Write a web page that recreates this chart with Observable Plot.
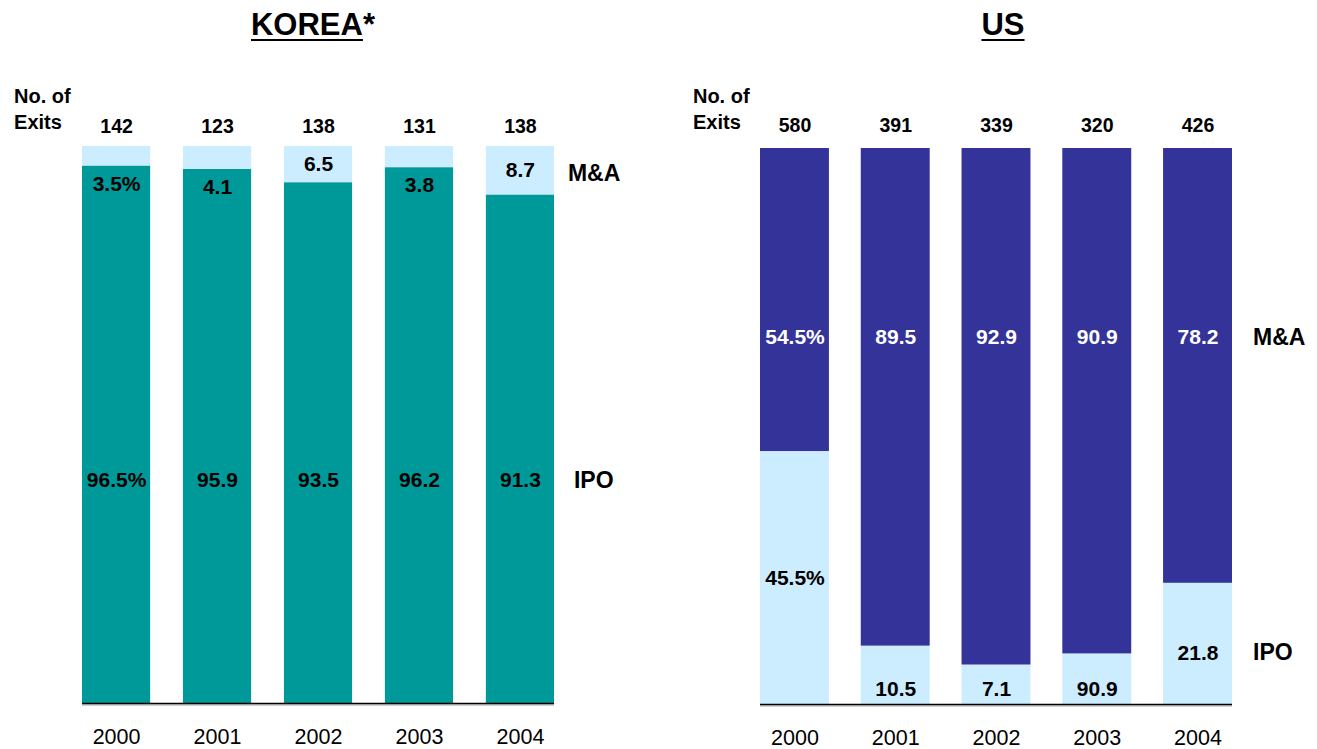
<!DOCTYPE html>
<html><head><meta charset="utf-8">
<script src="https://cdn.jsdelivr.net/npm/d3@7"></script>
<script src="https://cdn.jsdelivr.net/npm/@observablehq/plot@0.6"></script>
<style>
body{margin:0;background:#fff;font-family:"Liberation Sans",Arial,sans-serif;}
#root{position:relative;width:1317px;height:749px;overflow:hidden;background:#fff;}
.title{position:absolute;top:9px;font-size:31px;font-weight:bold;line-height:31px;transform:translateX(-50%);white-space:nowrap;color:#000}
.title u{text-decoration-thickness:2px;text-underline-offset:4px}
.panel{position:absolute;top:50px}
</style></head><body>
<div id="root">
  <div class="title" style="left:313px"><u>KOREA</u>*</div>
  <div class="title" style="left:1003px"><u>US</u></div>
  <div class="panel" id="korea" style="left:0px"></div>
  <div class="panel" id="us" style="left:660px"></div>
</div>
<script>
// ---- data ----
const years = ["2000", "2001", "2002", "2003", "2004"];
const types = ["IPO", "M&A"];

const koreaTotals = [142, 123, 138, 131, 138];
const koreaIPO = [96.5, 95.9, 93.5, 96.2, 91.3];
const koreaMA = [3.5, 4.1, 6.5, 3.8, 8.7];
const koreaIPOLabels = ["96.5%", "95.9", "93.5", "96.2", "91.3"];
const koreaMALabels = ["3.5%", "4.1", "6.5", "3.8", "8.7"];

const usTotals = [580, 391, 339, 320, 426];
const usIPO = [45.5, 10.5, 7.1, 9.1, 21.8];
const usMA = [54.5, 89.5, 92.9, 90.9, 78.2];
const usIPOLabels = ["45.5%", "10.5", "7.1", "90.9", "21.8"];
const usMALabels = ["54.5%", "89.5", "92.9", "90.9", "78.2"];

const koreaColors = ["#009999", "#CCECFF"]; // IPO, M&A
const usColors = ["#CCECFF", "#333399"];    // IPO, M&A

const FONT = "Liberation Sans, Arial, sans-serif";
const LABEL = 21;

function rowsOf(ipo, ma, ipoL, maL) {
  return years.flatMap((y, i) => [
    {year: y, type: "IPO", value: ipo[i], label: ipoL[i], ipo: ipo[i], ma: ma[i]},
    {year: y, type: "M&A", value: ma[i], label: maL[i], ipo: ipo[i], ma: ma[i]}
  ]);
}

function base(cfg, extra) {
  const totals = years.map((y, i) => ({year: y, total: cfg.totals[i]}));
  const rows = cfg.rows;
  return Plot.plot({
    width: cfg.width,
    height: 699,
    marginLeft: cfg.marginLeft,
    marginRight: cfg.marginRight,
    marginTop: cfg.marginTop,
    marginBottom: cfg.marginBottom,
    style: {fontFamily: FONT, background: "#fff", overflow: "visible"},
    x: {type: "band", domain: years, paddingInner: cfg.paddingInner, paddingOuter: 0, round: false, axis: null},
    y: {domain: [0, 100], axis: null},
    color: {domain: types, range: cfg.colors},
    marks: [
      Plot.barY(rows, {x: "year", y: "value", fill: "type"}),
      Plot.ruleY([0], {stroke: "#a0a0a0", strokeWidth: 1.2, dy: 1.5}),
      Plot.ruleY([0], {stroke: "#000", strokeWidth: 1.5}),
      Plot.text(totals, {x: "year", y: () => 100, dy: cfg.totalsDy, text: d => String(d.total), fontSize: 19.5, fontWeight: "bold", fill: "#000", lineAnchor: "middle", fontFamily: FONT}),
      Plot.text(["No. of\nExits"], {x: () => years[0], y: () => 100, dx: cfg.exitsDx, dy: cfg.exitsDy, textAnchor: "start", lineAnchor: "middle", lineHeight: 1.3, fontSize: 20, fontWeight: "bold", fill: "#000", fontFamily: FONT}),
      Plot.text(years, {x: d => d, y: () => 0, dy: 34, fontSize: 21.5, fill: "#000", lineAnchor: "middle", fontFamily: FONT}),
      ...extra
    ]
  });
}

// ---- Korea ----
const kRows = rowsOf(koreaIPO, koreaMA, koreaIPOLabels, koreaMALabels);
const kIpoY = 40;
const kMaRows = kRows.filter(d => d.type === "M&A");
const korea = base({
  width: 660, marginLeft: 82, marginRight: 106, marginTop: 96, marginBottom: 46,
  paddingInner: 0.325, colors: koreaColors, totals: koreaTotals, rows: kRows,
  exitsDx: -102.5, exitsDy: -39, totalsDy: -20
}, [
  Plot.text(kRows.filter(d => d.type === "IPO"), {x: "year", y: () => kIpoY, text: "label", fontSize: LABEL, fontWeight: "bold", fill: "#000", lineAnchor: "middle", fontFamily: FONT}),
  Plot.text(kMaRows.filter(d => d.ma >= 5), {x: "year", y: d => 100 - d.ma / 2, text: "label", fontSize: LABEL, fontWeight: "bold", fill: "#000", lineAnchor: "middle", fontFamily: FONT}),
  Plot.text(kMaRows.filter(d => d.ma < 5), {x: "year", y: d => 100 - d.ma, dy: 18, text: "label", fontSize: LABEL, fontWeight: "bold", fill: "#000", lineAnchor: "middle", fontFamily: FONT}),
  Plot.text(["M&A"], {x: () => years[4], y: () => 100 - koreaMA[4] / 2, dx: 47.5, dy: 3, text: d => d, textAnchor: "start", lineAnchor: "middle", fontSize: 23, fontWeight: "bold", fill: "#000", fontFamily: FONT}),
  Plot.text(["IPO"], {x: () => years[4], y: () => kIpoY, dx: 53.5, text: d => d, textAnchor: "start", lineAnchor: "middle", fontSize: 23, fontWeight: "bold", fill: "#000", fontFamily: FONT})
]);
document.getElementById("korea").appendChild(korea);

// ---- US ----
const uRows = rowsOf(usIPO, usMA, usIPOLabels, usMALabels);
const uMaY = 66;
const uIpoRows = uRows.filter(d => d.type === "IPO");
const us = base({
  width: 657, marginLeft: 100, marginRight: 85, marginTop: 98, marginBottom: 45,
  paddingInner: 0.316, colors: usColors, totals: usTotals, rows: uRows,
  exitsDx: -102, exitsDy: -41, totalsDy: -23
}, [
  Plot.text(uRows.filter(d => d.type === "M&A"), {x: "year", y: () => uMaY, text: "label", fontSize: LABEL, fontWeight: "bold", fill: "#fff", lineAnchor: "middle", fontFamily: FONT}),
  Plot.text(uIpoRows.filter(d => d.ipo >= 30), {x: "year", y: d => d.ipo / 2, text: "label", fontSize: LABEL, fontWeight: "bold", fill: "#000", lineAnchor: "middle", fontFamily: FONT}),
  Plot.text(uIpoRows.filter(d => d.ipo >= 15 && d.ipo < 30), {x: "year", y: d => d.ipo / 2, dy: 9, text: "label", fontSize: LABEL, fontWeight: "bold", fill: "#000", lineAnchor: "middle", fontFamily: FONT}),
  Plot.text(uIpoRows.filter(d => d.ipo < 15), {x: "year", y: () => 0, dy: -15, text: "label", fontSize: LABEL, fontWeight: "bold", fill: "#000", lineAnchor: "middle", fontFamily: FONT}),
  Plot.text(["M&A"], {x: () => years[4], y: () => uMaY, dx: 55, text: d => d, textAnchor: "start", lineAnchor: "middle", fontSize: 23, fontWeight: "bold", fill: "#000", fontFamily: FONT}),
  Plot.text(["IPO"], {x: () => years[4], y: () => usIPO[4] / 2, dx: 55, dy: 9, text: d => d, textAnchor: "start", lineAnchor: "middle", fontSize: 23, fontWeight: "bold", fill: "#000", fontFamily: FONT})
]);
document.getElementById("us").appendChild(us);
</script>
</body></html>
